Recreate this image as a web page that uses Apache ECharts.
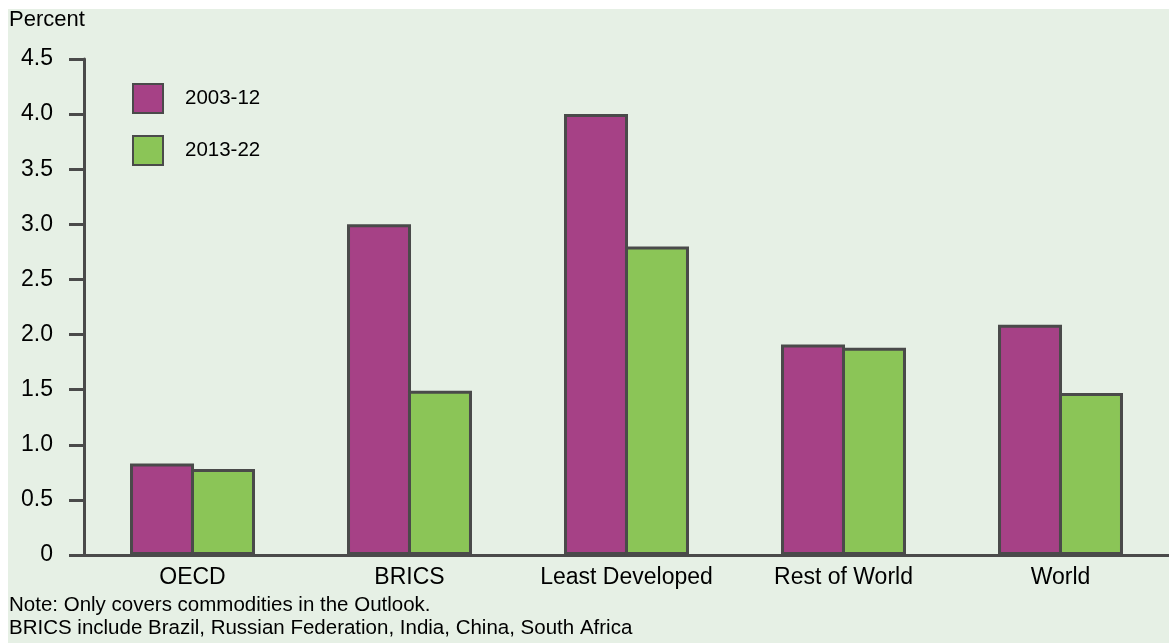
<!DOCTYPE html>
<html><head><meta charset="utf-8">
<script src="https://cdn.jsdelivr.net/npm/echarts@6/dist/echarts.min.js"></script>
<style>html,body{margin:0;padding:0;background:#fff}#c{width:1169px;height:643px}</style>
</head><body><div id="c"></div>
<script>
const categories = ['OECD', 'BRICS', 'Least Developed', 'Rest of World', 'World'];
const series2003 = [0.83, 3.0, 4.0, 1.91, 2.09];
const series2013 = [0.78, 1.49, 2.80, 1.88, 1.47];
const seriesNames = ['2003-12', '2013-22'];
const yTicks = [0, 0.5, 1.0, 1.5, 2.0, 2.5, 3.0, 3.5, 4.0, 4.5];
const yLabel = 'Percent';
const notes = ['Note: Only covers commodities in the Outlook.', 'BRICS include Brazil, Russian Federation, India, China, South Africa'];

const font = '"Liberation Sans", Arial, sans-serif';
const dark = '#4a4a4a';
const chart = echarts.init(document.getElementById('c'), null, {renderer: 'canvas'});
chart.setOption({
  backgroundColor: '#ffffff',
  animation: false,
  graphic: [
    {type: 'rect', z: -10, silent: true, shape: {x: 8, y: 9, width: 1161, height: 634}, style: {fill: '#E6F0E5'}},
    {type: 'text', left: 9, top: 9, style: {text: yLabel, font: '22px ' + font, fill: '#000'}},
    {type: 'text', left: 9, top: 595, style: {text: notes[0], font: '20.5px ' + font, fill: '#000'}},
    {type: 'text', left: 9, top: 618, style: {text: notes[1], font: '20.5px ' + font, fill: '#000'}}
  ],
  legend: {
    left: 132, top: 83, padding: 0, orient: 'vertical', itemWidth: 30, itemHeight: 29, itemGap: 21,
    icon: 'rect',
    textStyle: {fontFamily: font, fontSize: 20.5, color: '#000', padding: [0, 0, 0, 17]},
    data: seriesNames
  },
  grid: {left: 84, top: 59, width: 1095, height: 496, containLabel: false},
  xAxis: {
    type: 'category', data: categories,
    axisLine: {show: true, lineStyle: {color: dark, width: 3}},
    axisTick: {show: false},
    axisLabel: {fontFamily: font, fontSize: 23, color: '#000', margin: 11, interval: 0}
  },
  yAxis: {
    type: 'value', min: 0, max: 4.5, interval: 0.5,
    axisLine: {show: true, lineStyle: {color: dark, width: 3}},
    axisTick: {show: true, length: 15, lineStyle: {color: dark, width: 3}},
    splitLine: {show: false},
    axisLabel: {fontFamily: font, fontSize: 23, color: '#000', margin: 31,
      formatter: v => { const t = yTicks.find(x => Math.abs(x - v) < 1e-9); return t === 0 ? '0' : t.toFixed(1); }}
  },
  series: [
    {name: seriesNames[0], type: 'bar', data: series2003, barWidth: 64, barGap: '-4.7%',
     itemStyle: {color: '#A64186', borderColor: dark, borderWidth: 3}},
    {name: seriesNames[1], type: 'bar', data: series2013, barWidth: 64, barGap: '-4.7%',
     itemStyle: {color: '#8BC557', borderColor: dark, borderWidth: 3}}
  ]
});
</script></body></html>
